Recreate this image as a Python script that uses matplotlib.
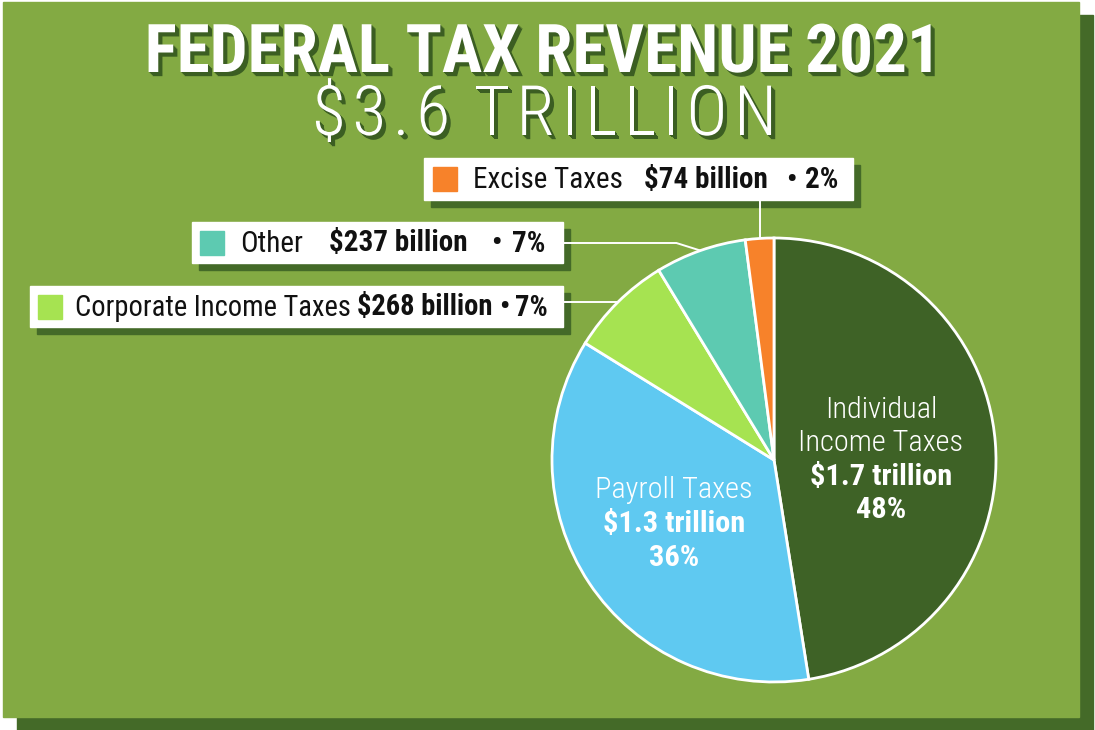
import os
import matplotlib
matplotlib.use('Agg')
import matplotlib.pyplot as plt
import matplotlib.patheffects as pe
from matplotlib import font_manager
from matplotlib.patches import Rectangle
from matplotlib.font_manager import FontProperties
import numpy as np

# 2021 federal tax revenue, billions of dollars (clockwise from 12 o'clock)
categories = ['Individual Income Taxes', 'Payroll Taxes', 'Corporate Income Taxes', 'Other', 'Excise Taxes']
values = [1700, 1300, 268, 237, 74]
amount_labels = ['$1.7 trillion', '$1.3 trillion', '$268 billion', '$237 billion', '$74 billion']
share_labels = ['48%', '36%', '7%', '7%', '2%']
title = 'FEDERAL TAX REVENUE 2021'
subtitle = '$3.6 TRILLION'

colors = ['#3e6226', '#5fc9f1', '#a6e351', '#5dcab1', '#f7822a']
PANEL = '#83aa43'
SHADOW = '#446a28'

font_files = {os.path.splitext(os.path.basename(f.fname))[0].lower(): f.fname
              for f in font_manager.fontManager.ttflist}


def pick(names, family, weight):
    for n in names:
        if n.lower() in font_files:
            return FontProperties(fname=font_files[n.lower()])
    return FontProperties(family=family, weight=weight)


f_title = pick(['RobotoCondensed-Bold', 'BarlowCondensed-Bold', 'DejaVuSansCondensed-Bold'], 'DejaVu Sans', 'bold')
f_sub = pick(['RobotoCondensed-Light', 'BarlowCondensed-Light', 'Roboto-Light'], 'DejaVu Sans', 'light')
f_light = pick(['RobotoCondensed-Light', 'DejaVuSansCondensed'], 'DejaVu Sans', 'normal')
f_reg = pick(['RobotoCondensed-Regular', 'DejaVuSansCondensed'], 'DejaVu Sans', 'normal')
f_bold = pick(['RobotoCondensed-Bold', 'DejaVuSansCondensed-Bold'], 'DejaVu Sans', 'bold')


def sized(fp, size):
    fp = fp.copy()
    fp.set_size(size)
    return fp


W, H = 1095, 730
fig = plt.figure(figsize=(W / 100, H / 100), dpi=100, facecolor='white')
bg = fig.add_axes([0, 0, 1, 1])
bg.set_xlim(0, W)
bg.set_ylim(H, 0)
bg.axis('off')

# panel and its drop shadow
bg.add_patch(Rectangle((17, 15), 1093 - 17, H - 15, color=SHADOW, zorder=0))
bg.add_patch(Rectangle((3, 2), 1079 - 3, 717 - 2, color=PANEL, zorder=1))

renderer = fig.canvas.get_renderer()


def text_width(s, fp):
    w, h, d = renderer.get_text_width_height_descent(s, fp, ismath=False)
    return w


def extrude(n):
    fx = [pe.SimplePatchShadow(offset=(o, -o), shadow_rgbFace='#3b5e22', alpha=1.0)
          for o in np.arange(0.75, n + 0.01, 0.75)]
    return fx + [pe.Normal()]


# title, sized to span the header width
tsize = 50 * 797 / text_width(title, sized(f_title, 50))
bg.text(543, 72, title, ha='center', va='baseline', fontproperties=sized(f_title, tsize),
        color='white', path_effects=extrude(3), zorder=5)

# letter-spaced subtitle
fp_sub = sized(f_sub, 50)
widths = [text_width(c, fp_sub) if c != ' ' else 10 for c in subtitle]
gap = (465 - sum(widths)) / (len(subtitle) - 1)
x = 312
for c, w in zip(subtitle, widths):
    if c != ' ':
        bg.text(x, 135, c, ha='left', va='baseline', fontproperties=fp_sub,
                color='white', path_effects=extrude(3), zorder=5)
    x += w + gap

# pie
cx, cy, r = 774, 460, 222
pax = fig.add_axes([(cx - r) / W, (H - cy - r) / H, 2 * r / W, 2 * r / H])
wedges, _ = pax.pie(values, colors=colors, startangle=90, counterclock=False, radius=1,
                    wedgeprops=dict(edgecolor='white', linewidth=2))
for w in wedges:
    w.set_clip_on(False)
pax.set_xlim(-1, 1)
pax.set_ylim(-1, 1)
pax.set_aspect('equal')
pax.axis('off')


def edge_point(wedge):
    a = np.deg2rad((wedge.theta1 + wedge.theta2) / 2)
    disp = pax.transData.transform((np.cos(a), np.sin(a)))
    return bg.transData.inverted().transform(disp)


def inner(x, y, s, fp):
    fig.text(x, y, s, ha='center', va='center', fontproperties=fp, color='white',
             transform=bg.transData, zorder=6)


# labels inside the two large slices
isize = 20 * 142 / text_width(amount_labels[0], sized(f_bold, 20))
fr, fb = sized(f_light, isize), sized(f_bold, isize)
inner(881, 410, 'Individual', fr)
inner(881, 443, 'Income Taxes', fr)
inner(881, 477, amount_labels[0], fb)
inner(881, 510, share_labels[0], fb)
inner(674, 490, categories[1], fr)
inner(674, 524, amount_labels[1], fb)
inner(674, 558, share_labels[1], fb)

# boxed callouts: (slice, box, square x, text start, text end, gaps)
callouts = [
    (4, (424, 158, 853, 200), 433, 473, 838, [20, 18, 8]),
    (3, (192, 222, 563, 263), 200, 240, 545, [20, 18, 8]),
    (2, (30, 286, 563, 327), 38, 75, 548, [7, 7, 6]),
]


def parts_for(i, size):
    fr, fb = sized(f_reg, size), sized(f_bold, size)
    return [(categories[i], fr), (amount_labels[i], fb), ('\u2022', fb), (share_labels[i], fb)]


for i, (x0, y0, x1, y1), sq_x, start, end, gaps in callouts:
    bg.add_patch(Rectangle((x0 + 7, y0 + 7), x1 - x0, y1 - y0, color=SHADOW, zorder=3))
    bg.add_patch(Rectangle((x0, y0), x1 - x0, y1 - y0, color='white', zorder=4))
    yc = (y0 + y1) / 2
    bg.add_patch(Rectangle((sq_x, yc - 12), 24, 24, color=colors[i], zorder=5))
    # shrink the text only if the gaps would get too tight
    words = sum(text_width(s, fp) for s, fp in parts_for(i, 21))
    size = min(21, 21 * (end - start - sum(gaps)) / words)
    parts = parts_for(i, size)
    # spread the spare room over the gaps so the line ends where it should
    spare = end - start - sum(text_width(s, fp) for s, fp in parts)
    scale = max(0.8, spare / sum(gaps))
    x = start
    for (s, fp), g in zip(parts, gaps + [0]):
        bg.text(x, yc + 9, s, fontproperties=fp, color='#111111', va='baseline', zorder=6)
        x += text_width(s, fp) + g * scale

# leader lines from the boxes to the small slices
lw = 1.4
px, py = edge_point(wedges[4])
bg.plot([px, px], [200, py], color='white', lw=lw, zorder=3.5, solid_capstyle='butt')
px, py = edge_point(wedges[3])
bg.plot([563, px - 24, px], [243, 243, py], color='white', lw=lw, zorder=3.5)
px, py = edge_point(wedges[2])
bg.plot([563, px], [py, py], color='white', lw=lw, zorder=3.5)

fig.savefig('out.png', dpi=100, facecolor='white')
